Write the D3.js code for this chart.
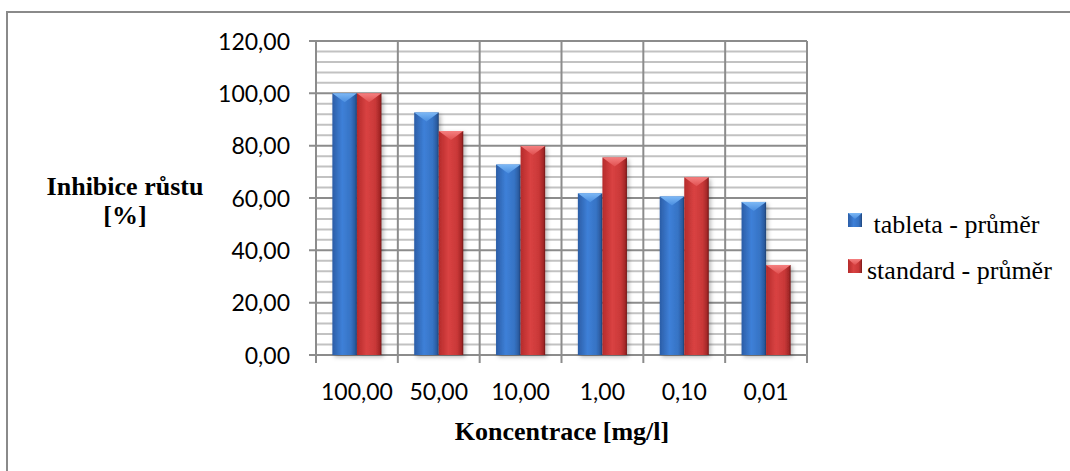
<!DOCTYPE html>
<html><head><meta charset="utf-8">
<script src="https://cdn.jsdelivr.net/npm/d3@7"></script>
<style>body{margin:0;background:#fff}svg{display:block}</style>
</head><body>
<svg id="c" width="1070" height="471"></svg>
<script>
const categories = ["100,00","50,00","10,00","1,00","0,10","0,01"];
const seriesNames = ["tableta - průměr","standard - průměr"];
const tableta = [100.0, 92.7, 72.8, 61.8, 60.6, 58.5];
const standard = [100.0, 85.6, 79.9, 75.5, 67.9, 34.4];
const yTicks = [0,20,40,60,80,100,120];
const yMinor = d3.range(0,121,4);
const yTitle = ["Inhibice růstu","[%]"];
const xTitle = "Koncentrace [mg/l]";

const svg = d3.select("#c");
const defs = svg.append("defs");
function grad(id, stops){
  const g = defs.append("linearGradient").attr("id",id).attr("x1",0).attr("x2",1).attr("y1",0).attr("y2",0);
  stops.forEach(s=>g.append("stop").attr("offset",s[0]).attr("stop-color",s[1]));
}
grad("gBlue",[[0,"#2b5da6"],[0.4,"#3e80d8"],[0.75,"#3673c4"],[0.93,"#2a5a9e"],[1,"#1c3f72"]]);
grad("gRed",[[0,"#b52b2b"],[0.4,"#d94242"],[0.75,"#c93838"],[0.93,"#a32727"],[1,"#6e1515"]]);
const tb = defs.append("linearGradient").attr("id","tBlue").attr("x1",0).attr("x2",0).attr("y1",0).attr("y2",1);
tb.append("stop").attr("offset",0).attr("stop-color","#7db8f5");
tb.append("stop").attr("offset",1).attr("stop-color","#4a8ee0");
const tr = defs.append("linearGradient").attr("id","tRed").attr("x1",0).attr("x2",0).attr("y1",0).attr("y2",1);
tr.append("stop").attr("offset",0).attr("stop-color","#f58080");
tr.append("stop").attr("offset",1).attr("stop-color","#e05050");
const sh = defs.append("filter").attr("id","sh").attr("x","-20%").attr("y","-5%").attr("width","150%").attr("height","115%");
sh.append("feDropShadow").attr("dx",2).attr("dy",2).attr("stdDeviation",2).attr("flood-color","#000").attr("flood-opacity",0.28);

// outer border
svg.append("rect").attr("x",7).attr("y",12).attr("width",1200).attr("height",600)
  .attr("fill","none").attr("stroke","#8a8a8a").attr("stroke-width",2);

const L=316, R=807, T=41, B=355;
const x = d3.scaleBand().domain(categories).range([L,R]).padding(0);
const y = d3.scaleLinear().domain([0,120]).range([B,T]);

const g = svg.append("g");
// minor grid
g.selectAll("line.mn").data(yMinor.filter(v=>v%20!==0)).join("line")
  .attr("x1",L).attr("x2",R).attr("y1",d=>y(d)).attr("y2",d=>y(d))
  .attr("stroke","#c2c2c2").attr("stroke-width",2);
// vertical grid
const bounds = categories.map(c=>x(c)).concat([R]);
g.selectAll("line.v").data(bounds).join("line")
  .attr("x1",d=>d).attr("x2",d=>d).attr("y1",T).attr("y2",B+8)
  .attr("stroke","#8c8c8c").attr("stroke-width",2);
// major grid
g.selectAll("line.mj").data(yTicks).join("line")
  .attr("x1",L-7).attr("x2",R).attr("y1",d=>y(d)).attr("y2",d=>y(d))
  .attr("stroke","#8c8c8c").attr("stroke-width",2);

// y labels
const tickFont = "Lato, 'Open Sans', sans-serif";
g.selectAll("text.yl").data(yTicks).join("text")
  .attr("x",290).attr("y",d=>y(d)+8.5).attr("text-anchor","end")
  .attr("font-family",tickFont).attr("font-size",23).attr("fill","#000")
  .text(d=>d3.format(".2f")(d).replace(".",","));
// x labels
g.selectAll("text.xl").data(categories).join("text")
  .attr("x",d=>x(d)+x.bandwidth()/2).attr("y",400).attr("text-anchor","middle")
  .attr("font-family",tickFont).attr("font-size",23).attr("fill","#000")
  .text(d=>d);

// bars
const bw = x.bandwidth()*0.3;
const inner = d3.scaleBand().domain([0,1]).range([(x.bandwidth()-2*bw)/2,(x.bandwidth()+2*bw)/2]).padding(0);
const series = [tableta, standard];
const fills = ["url(#gBlue)","url(#gRed)"];
const tops = ["url(#tBlue)","url(#tRed)"];
series.forEach((vals,si)=>{
  const bg = svg.append("g");
  const data = categories.map((c,i)=>({c,v:vals[i]}));
  bg.selectAll("rect").data(data).join("rect")
    .attr("x",d=>x(d.c)+inner(si)).attr("width",inner.bandwidth())
    .attr("y",d=>y(d.v)).attr("height",d=>B-y(d.v))
    .attr("fill",fills[si]).attr("filter","url(#sh)");
  bg.selectAll("polygon").data(data).join("polygon")
    .attr("points",d=>{
      const x0=x(d.c)+inner(si), x1=x0+inner.bandwidth(), yt=y(d.v), h=Math.min(9,B-yt);
      return `${x0},${yt} ${x1},${yt} ${(x0+x1)/2},${yt+h}`;
    }).attr("fill",tops[si]);
});

// axis titles
const serif = "'Liberation Serif','Times New Roman',serif";
svg.append("text").attr("x",125).attr("y",195).attr("text-anchor","middle")
  .attr("font-family",serif).attr("font-weight","bold").attr("font-size",26).text(yTitle[0]);
svg.append("text").attr("x",125).attr("y",224).attr("text-anchor","middle")
  .attr("font-family",serif).attr("font-weight","bold").attr("font-size",26).text(yTitle[1]);
svg.append("text").attr("x",562).attr("y",440).attr("text-anchor","middle")
  .attr("font-family",serif).attr("font-weight","bold").attr("font-size",26).text(xTitle);

// legend
const leg = svg.append("g");
const legY = [213,259];
const legText = [" "+seriesNames[0], seriesNames[1]];
seriesNames.forEach((n,i)=>{
  leg.append("rect").attr("x",848).attr("y",legY[i]).attr("width",14).attr("height",14).attr("fill",fills[i]);
  leg.append("polygon").attr("points",`848,${legY[i]} 862,${legY[i]} 855,${legY[i]+6}`).attr("fill",tops[i]);
  leg.append("text").attr("x",867).attr("y",legY[i]+20).attr("font-family",serif).attr("font-size",26)
    .attr("xml:space","preserve").style("white-space","pre").text(legText[i]);
});
</script>
</body></html>
